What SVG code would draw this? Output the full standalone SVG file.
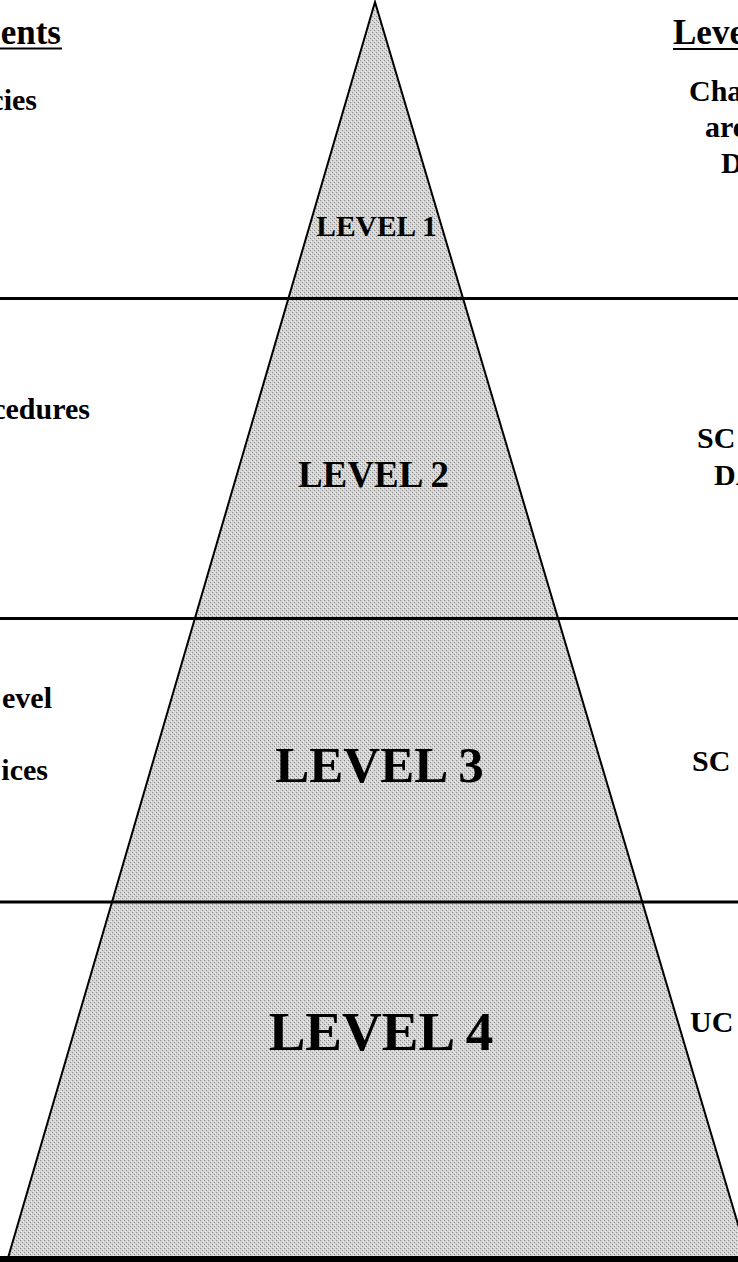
<svg xmlns="http://www.w3.org/2000/svg" width="738" height="1262" viewBox="0 0 738 1262">
  <defs>
    <pattern id="dither" width="4" height="4" patternUnits="userSpaceOnUse">
      <rect width="4" height="4" fill="#d4d4d4"/>
      <rect x="0" y="0" width="1" height="1" fill="#8a8a8a"/>
      <rect x="2" y="2" width="1" height="1" fill="#8a8a8a"/>
      <rect x="1" y="3" width="1" height="1" fill="#f0f0f0"/>
      <rect x="3" y="1" width="1" height="1" fill="#f0f0f0"/>
    </pattern>
  </defs>
  <style>
    .bg { fill: #ffffff; }
    .pyr { fill: url(#dither); stroke: #000; stroke-width: 2; stroke-linejoin: miter; }
    .sep { stroke: #000; stroke-width: 3; fill: none; }
    .ul { stroke: #000; stroke-width: 2.2; }
    .head { font-family: "Liberation Serif", "Times New Roman", serif; font-weight: bold; font-size: 35px; fill: #000; }
    .side { font-family: "Liberation Serif", "Times New Roman", serif; font-weight: bold; font-size: 30px; fill: #000; }
    .lvl { font-family: "Liberation Serif", "Times New Roman", serif; font-weight: bold; fill: #000; text-anchor: middle; }
    .end { text-anchor: end; }
  </style>
  <rect class="bg" x="0" y="0" width="738" height="1262"/>

  <g id="pyramid">
    <polygon class="pyr" points="375,2 8,1258 748,1258"/>
  </g>

  <g id="connectors">
    <line class="sep" x1="0" y1="298.5" x2="738" y2="298.5"/>
    <line class="sep" x1="0" y1="618.5" x2="738" y2="618.5"/>
    <line class="sep" x1="0" y1="902" x2="738" y2="902"/>
    <line x1="0" y1="1259" x2="738" y2="1259" stroke="#000" stroke-width="6"/>
  </g>

  <g id="level1">
    <text class="lvl" x="376.5" y="236" font-size="29.5">LEVEL 1</text>
  </g>
  <g id="level2">
    <text class="lvl" x="373.5" y="487" font-size="37">LEVEL 2</text>
  </g>
  <g id="level3">
    <text class="lvl" x="379.5" y="782" font-size="51">LEVEL 3</text>
  </g>
  <g id="level4">
    <text class="lvl" x="381" y="1050" font-size="55">LEVEL 4</text>
  </g>

  <g id="left-column">
    <text class="head end" x="61" y="44">ents</text>
    <line class="ul" x1="0" y1="48.5" x2="62" y2="48.5"/>
    <text class="side end" x="37" y="110">cies</text>
    <text class="side end" x="90" y="419">cedures</text>
    <text class="side end" x="52" y="708">evel</text>
    <text class="side end" x="48" y="780">ices</text>
  </g>

  <g id="right-column">
    <text class="head" x="673" y="44">Leve</text>
    <line class="ul" x1="673" y1="49" x2="738" y2="49"/>
    <text class="side" x="689" y="101">Cha</text>
    <text class="side" x="705" y="137">are</text>
    <text class="side" x="721" y="173">D</text>
    <text class="side" x="697" y="448">SC</text>
    <text class="side" x="714" y="485">DA</text>
    <text class="side" x="692" y="771">SC</text>
    <text class="side" x="690" y="1032">UC</text>
  </g>
</svg>
